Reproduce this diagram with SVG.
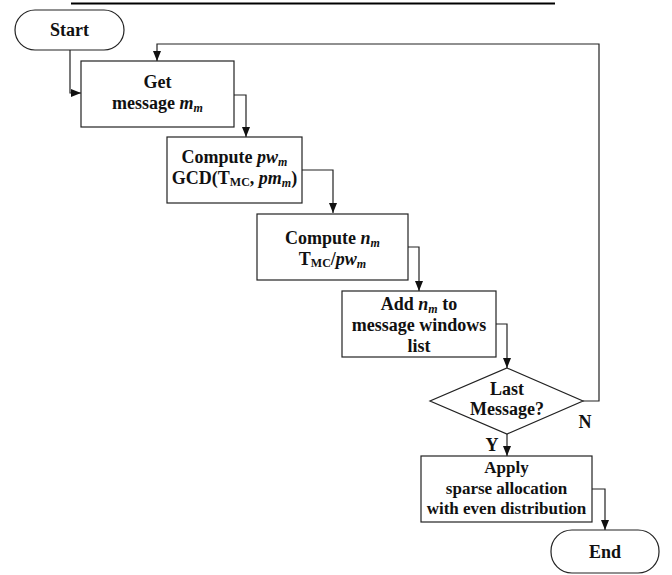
<svg xmlns="http://www.w3.org/2000/svg" width="672" height="575" viewBox="0 0 672 575">
<style>
.box{fill:#fff;stroke:#222;stroke-width:1.2}
.ln{fill:none;stroke:#222;stroke-width:1.2}
text{font-family:"Liberation Serif","Times New Roman",serif;font-weight:bold;font-size:18px;fill:#111;text-anchor:middle}
.s{font-size:17px}
.i{font-style:italic}
.sub{font-size:12px}
</style>
<defs>
<marker id="ah" markerUnits="userSpaceOnUse" markerWidth="10" markerHeight="10" viewBox="0 0 10 10" refX="10" refY="5" orient="auto">
<path d="M0,1 L10,5 L0,9 Z" fill="#111"/>
</marker>
</defs>
<rect width="672" height="575" fill="#fff"/>
<line x1="71" y1="3.5" x2="555" y2="3.5" stroke="#000" stroke-width="2.2"/>
<g id="connectors">
<path class="ln" d="M70,50 V93 H81" marker-end="url(#ah)"/>
<path class="ln" d="M234,95 H246 V137" marker-end="url(#ah)"/>
<path class="ln" d="M302,170 H333 V213" marker-end="url(#ah)"/>
<path class="ln" d="M408,247 H419 V291" marker-end="url(#ah)"/>
<path class="ln" d="M496,324 H507 V368" marker-end="url(#ah)"/>
<path class="ln" d="M583,401 H599 V44 H157 V61" marker-end="url(#ah)"/>
<path class="ln" d="M507,434 V456" marker-end="url(#ah)"/>
<path class="ln" d="M592,489 H605 V530" marker-end="url(#ah)"/>
<text x="585" y="428">N</text>
<text x="492" y="451">Y</text>
</g>
<g id="start">
<rect class="box" x="15" y="10" width="109" height="40" rx="20"/>
<text x="69.5" y="36">Start</text>
</g>
<g id="get">
<rect class="box" x="81" y="61" width="153" height="66"/>
<text x="157.5" y="88">Get</text>
<text x="157.5" y="109">message <tspan class="i">m</tspan><tspan class="i sub" dy="3">m</tspan></text>
</g>
<g id="computepw">
<rect class="box" x="167" y="137" width="135" height="66"/>
<text x="234.5" y="163">Compute <tspan class="i">pw</tspan><tspan class="i sub" dy="3">m</tspan></text>
<text x="234.5" y="184">GCD(T<tspan class="sub" dy="2">MC</tspan><tspan dy="-2">, </tspan><tspan class="i">pm</tspan><tspan class="i sub" dy="3">m</tspan><tspan dy="-3">)</tspan></text>
</g>
<g id="computen">
<rect class="box" x="257" y="214" width="151" height="66"/>
<text x="332.5" y="244">Compute <tspan class="i">n</tspan><tspan class="i sub" dy="3">m</tspan></text>
<text x="332.5" y="265">T<tspan class="sub" dy="2">MC</tspan><tspan dy="-2">/</tspan><tspan class="i">pw</tspan><tspan class="i sub" dy="3">m</tspan></text>
</g>
<g id="add">
<rect class="box" x="342" y="291" width="154" height="66"/>
<text x="419" y="310">Add <tspan class="i">n</tspan><tspan class="i sub" dy="3">m</tspan><tspan dy="-3"> to</tspan></text>
<text x="419" y="331">message windows</text>
<text x="419" y="352">list</text>
</g>
<g id="last">
<polygon class="box" points="507,368 583,401 507,434 430,401"/>
<text x="507" y="395">Last</text>
<text x="507" y="415">Message?</text>
</g>
<g id="apply">
<rect class="box" x="421" y="456" width="171" height="66"/>
<text class="s" x="506.5" y="473">Apply</text>
<text class="s" x="506.5" y="494">sparse allocation</text>
<text class="s" x="506.5" y="514">with even distribution</text>
</g>
<g id="end">
<rect class="box" x="551" y="530" width="108" height="43" rx="21"/>
<text x="605" y="558">End</text>
</g>
</svg>
